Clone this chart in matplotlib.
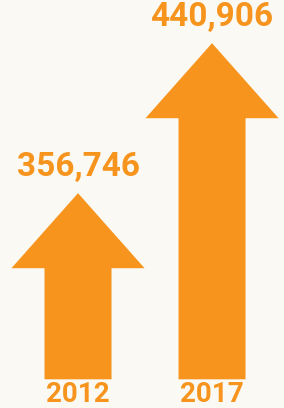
import matplotlib
matplotlib.use("Agg")
import matplotlib.pyplot as plt

# data
years = ["2012", "2017"]
values = [356746, 440906]

orange = "#F7941D"
bg = "#FAF9F4"

fig = plt.figure(figsize=(2.84, 4.08), dpi=100, facecolor=bg)
ax = fig.add_axes([0, 0, 1, 1])
ax.set_facecolor(bg)
ax.set_xlim(-0.582, 1.537)
ax.set_ylim(236200, 465140)
ax.axis("off")

base = 252300
for i, (yr, v) in enumerate(zip(years, values)):
    ax.arrow(i, base, 0, v - base, width=0.5, head_width=0.993,
             head_length=42100, length_includes_head=True,
             fc=orange, ec="none")
    ax.annotate(f"{v:,}", (i, v), xytext=(0, 10), textcoords="offset pixels",
                ha="center", va="bottom", color=orange, fontsize=24,
                fontweight="bold", family="Roboto")
    ax.text(i, 0.0, yr, transform=ax.get_xaxis_transform(),
            ha="center", va="bottom", color=orange, fontsize=20,
            fontweight="bold", family="Roboto")

fig.savefig("out.png", dpi=100, facecolor=bg)
